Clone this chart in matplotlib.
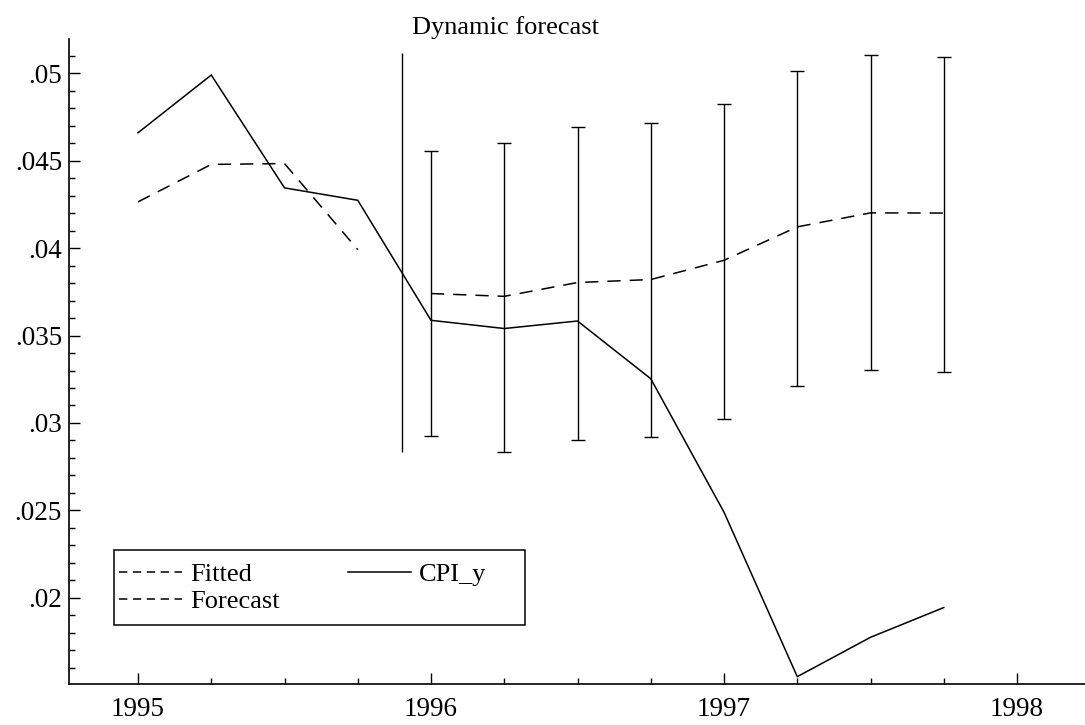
import matplotlib
matplotlib.use("Agg")
import matplotlib.pyplot as plt
from matplotlib.lines import Line2D
from matplotlib.patches import Rectangle
from matplotlib.ticker import FuncFormatter, MultipleLocator
import numpy as np

# ---------------- data ----------------
actual_periods = ["1995Q1", "1995Q2", "1995Q3", "1995Q4",
                  "1996Q1", "1996Q2", "1996Q3", "1996Q4",
                  "1997Q1", "1997Q2", "1997Q3", "1997Q4"]
cpi_y = [0.04659, 0.04989, 0.04344, 0.04273,
         0.03587, 0.03540, 0.03583, 0.03253,
         0.02490, 0.01550, 0.01775, 0.01945]

fitted_periods = ["1995Q1", "1995Q2", "1995Q3", "1995Q4"]
fitted = [0.04264, 0.04478, 0.04483, 0.03991]

forecast_periods = ["1996Q1", "1996Q2", "1996Q3", "1996Q4",
                    "1997Q1", "1997Q2", "1997Q3", "1997Q4"]
forecast = [0.03740, 0.03724, 0.03803, 0.03820,
            0.03930, 0.04121, 0.04201, 0.04200]
band_upper = [0.04556, 0.04601, 0.04693, 0.04716,
              0.04826, 0.05010, 0.05101, 0.05090]
band_lower = [0.02923, 0.02832, 0.02900, 0.02920,
              0.03022, 0.03211, 0.03301, 0.03290]

forecast_start_line = 1995.90          # vertical marker line position
forecast_start_range = [0.02834, 0.05116]

year_ticks = [1995, 1996, 1997, 1998]
title_text = "Dynamic forecast"
legend_labels = ["Fitted", "Forecast", "CPI_y"]


def to_time(p):
    y, q = p.split("Q")
    return int(y) + (int(q) - 1) / 4.0


x_act = np.array([to_time(p) for p in actual_periods])
x_fit = np.array([to_time(p) for p in fitted_periods])
x_fc = np.array([to_time(p) for p in forecast_periods])
fc = np.array(forecast)
up = np.array(band_upper)
lo = np.array(band_lower)

# ---------------- figure ----------------
plt.rcParams["font.family"] = ["Liberation Serif", "DejaVu Serif"]
plt.rcParams["lines.scale_dashes"] = False

W, H = 1085, 725
fig = plt.figure(figsize=(W / 100, H / 100), dpi=100)
fig.patch.set_facecolor("white")

ax_l, ax_r, ax_t, ax_b = 69, 1085, 39, 684
ax = fig.add_axes([ax_l / W, 1 - ax_b / H, (ax_r - ax_l) / W, (ax_b - ax_t) / H])

lw = 1.1
data_dash = (0, (9.5, 6.5))
ax.plot(x_act, cpi_y, color="black", lw=lw, solid_joinstyle="miter")
ax.plot(x_fit, fitted, color="black", lw=lw, linestyle=data_dash)
ax.plot(x_fc, fc, color="black", lw=lw, linestyle=data_dash)
ax.errorbar(x_fc, fc, yerr=[fc - lo, up - fc], fmt="none", ecolor="black",
            elinewidth=1.0, capsize=5, capthick=1.0)
ax.vlines(forecast_start_line, forecast_start_range[0], forecast_start_range[1],
          color="black", lw=1.0)

ax.set_xlim(1994.7645, 1998.232)
ax.set_ylim(0.01508, 0.05195)

for s in ["top", "right"]:
    ax.spines[s].set_visible(False)
for s in ["left", "bottom"]:
    ax.spines[s].set_linewidth(1.2)

ax.set_xticks(year_ticks)
ax.set_xticklabels([str(y) for y in year_ticks])
ax.xaxis.set_minor_locator(MultipleLocator(0.25))
ax.yaxis.set_major_locator(MultipleLocator(0.005))
ax.yaxis.set_minor_locator(MultipleLocator(0.001))
ax.yaxis.set_major_formatter(FuncFormatter(
    lambda v, p: ("%.3f" % v).rstrip("0").lstrip("0")))

ax.tick_params(axis="both", which="major", direction="in", length=8,
               width=1.0, labelsize=19.5)
ax.tick_params(axis="both", which="minor", direction="in", length=4, width=1.0)
ax.tick_params(axis="x", which="major", pad=9.5)
ax.tick_params(axis="y", which="major", pad=5)

fig.text(505 / W, 1 - 34 / H, title_text, ha="center", va="baseline", fontsize=19)

# legend
leg_dash = (0, (6, 4))
h_fit = Line2D([], [], color="black", lw=lw, linestyle=leg_dash)
h_fc = Line2D([], [], color="black", lw=lw, linestyle=leg_dash)
h_act = Line2D([], [], color="black", lw=lw)
leg = ax.legend([h_fit, h_fc, h_act], legend_labels, ncol=2, frameon=False,
                loc="upper left", bbox_to_anchor=(119 / W, 1 - 563 / H),
                bbox_transform=fig.transFigure, fontsize=19, borderpad=0,
                borderaxespad=0, handlelength=2.4, handletextpad=0.28,
                columnspacing=2.6, labelspacing=0.13)
fig.add_artist(Rectangle((114 / W, 1 - 625 / H), 411 / W, 75 / H,
                         transform=fig.transFigure, fill=False,
                         edgecolor="black", lw=1.1))

fig.savefig("out.png", dpi=100)
